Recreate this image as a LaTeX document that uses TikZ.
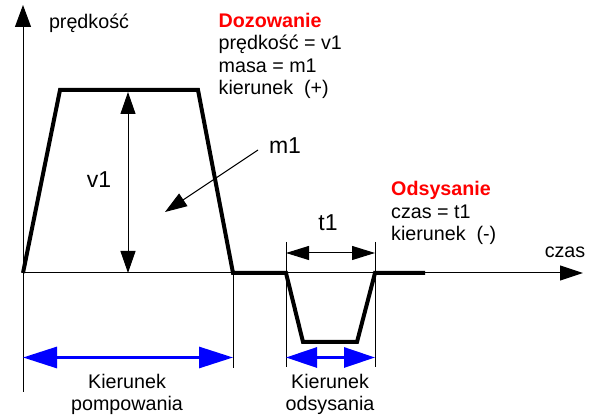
\documentclass[tikz,border=0pt]{standalone}
\usepackage{fontspec}
\setmainfont{Liberation Sans}
\usetikzlibrary{arrows.meta}

\tikzset{
  wykres/.style={line width=4pt},
  cienka/.style={line width=1pt},
  grot/.style={-{Triangle[length=22pt,width=16pt]}},
  podwojny/.style={{Triangle[length=22pt,width=15pt]}-{Triangle[length=22pt,width=15pt]}},
  niebieska/.style={blue,line width=3pt,{Triangle[length=34pt,width=21pt]}-{Triangle[length=34pt,width=21pt]}},
  duzy/.style={font=\fontsize{23}{26}\selectfont}
}

\begin{document}
\begin{tikzpicture}[x=10pt,y=10pt,
  every node/.style={font=\fontsize{19.7}{22.4}\selectfont,inner sep=0pt}]
  \useasboundingbox (0,0) rectangle (59.4,41.9);
  % Osie
  \coordinate (O) at (2.3,14.6);
  \coordinate (Ymax) at (2.3,41.4);
  \coordinate (Xmax) at (58.3,14.6);
  \draw[cienka,grot] (O) -- (Ymax);
  \draw[cienka,-{Triangle[length=23pt,width=15pt]}] (O) -- (Xmax);
  \node (predkosc) at (8.9,39.6) {prędkość};
  \node (czas) at (56.5,16.7) {czas};
  % Przebieg predkosci
  \coordinate (P) at (23.3,14.6); % koniec pompowania
  \coordinate (S) at (28.6,14.6); % poczatek odsysania
  \coordinate (K) at (37.5,14.6); % koniec odsysania
  \draw[wykres] (O) -- (6.0,32.9) -- (19.8,32.9) -- (P)
      -- (S) -- (30.3,7.7) -- (35.7,7.7) -- (K) -- (42.5,14.6);
  % Predkosc v1
  \coordinate (v1dol) at (12.8,14.6);
  \coordinate (v1gora) at (12.8,32.7);
  \draw[cienka,podwojny] (v1dol) -- (v1gora);
  \node[duzy] (v1) at (9.9,23.9) {v1};
  % Masa m1
  \node[duzy] (m1) at (28.5,27.3) {m1};
  \coordinate (m1start) at (25.8,26.9);
  \coordinate (m1koniec) at (16.5,20.7);
  \draw[cienka,-{Triangle[length=22pt,width=15pt]}] (m1start) -- (m1koniec);
  % Czas t1
  \draw[cienka] (28.6,17.7) -- (28.6,5.2);
  \draw[cienka] (37.5,17.7) -- (37.5,5.2);
  \coordinate (t1lewy) at (28.6,16.6);
  \coordinate (t1prawy) at (37.5,16.6);
  \draw[cienka,{Triangle[length=23pt,width=14pt]}-{Triangle[length=23pt,width=14pt]}]
      (t1lewy) -- (t1prawy);
  \node[duzy] (t1) at (32.8,19.6) {t1};
  % Linie pomocnicze
  \draw[cienka] (O) -- (2.3,2.7);
  \draw[cienka] (P) -- (23.3,5.1);
  % Kierunki
  \coordinate (pompA) at (2.3,6.15);
  \coordinate (pompB) at (23.3,6.15);
  \draw[niebieska] (pompA) -- (pompB);
  \coordinate (odsA) at (28.6,6.15);
  \coordinate (odsB) at (37.5,6.15);
  \draw[niebieska,{Triangle[length=31pt,width=20pt]}-{Triangle[length=31pt,width=20pt]}]
      (odsA) -- (odsB);
  \node[align=center] (kpomp) at (12.7,2.45) {Kierunek\\pompowania};
  \node[align=center] (kods) at (33.0,2.45) {Kierunek\\odsysania};
  % Opisy
  \node[align=left,anchor=north west] (dozowanie) at (21.85,40.6)
      {{\color{red}\bfseries Dozowanie}\\prędkość = v1\\masa = m1\\kierunek~~(+)};
  \node[align=left,anchor=north west] (odsysanie) at (39.1,23.75)
      {{\color{red}\bfseries Odsysanie}\\czas = t1\\kierunek~~(-)};
\end{tikzpicture}
\end{document}
